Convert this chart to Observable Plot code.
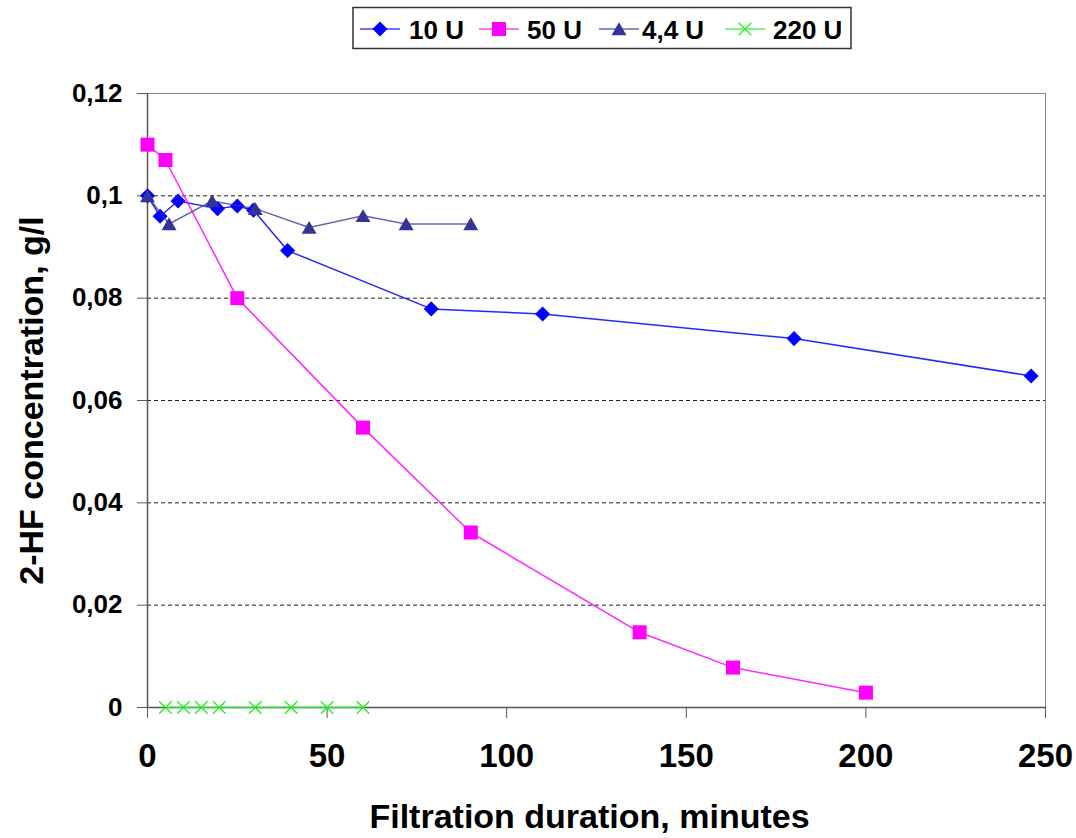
<!DOCTYPE html>
<html><head><meta charset="utf-8">
<script src="https://cdn.jsdelivr.net/npm/d3@7"></script>
<script src="https://cdn.jsdelivr.net/npm/@observablehq/plot@0.6"></script>
<style>
body{margin:0;background:#fff;font-family:"Liberation Sans",Arial,sans-serif;}
#wrap{width:1076px;}
</style></head><body>
<div id="wrap"><div id="legend"></div><div id="chart"></div></div>
<script>
// ---- data ----
const seriesNames = ["10 U", "50 U", "4,4 U", "220 U"];
const x10 = [0, 3.5, 8.5, 19.5, 25, 29.5, 39, 79, 110, 180, 246];
const y10 = [0.1, 0.096, 0.099, 0.0975, 0.098, 0.0972, 0.0893, 0.0779, 0.0769, 0.0721, 0.0648];
const x50 = [0, 5, 25, 60, 90, 137, 163, 200];
const y50 = [0.110, 0.107, 0.080, 0.0547, 0.0342, 0.0147, 0.0078, 0.0029];
const x44 = [0, 6, 18, 30, 45, 60, 72, 90];
const y44 = [0.1, 0.0945, 0.099, 0.0975, 0.0938, 0.0961, 0.0945, 0.0945];
const x220 = [5, 10, 15, 20, 30, 40, 50, 60];
const y220 = [0, 0, 0, 0, 0, 0, 0, 0];
const ticksX = [0, 50, 100, 150, 200, 250];
const ticksY = [0, 0.02, 0.04, 0.06, 0.08, 0.1, 0.12];
const gridY = [0.02, 0.04, 0.06, 0.08, 0.1];
const xTitle = "Filtration duration, minutes";
const yTitle = "2-HF concentration, g/l";

// ---- styles ----
const colors = ["#0000ff", "#ff00ff", "#333399", "#22ee22"];
const symbols = ["diamond2", "square2", "triangle2", "times"];
const d3symbols = [d3.symbolDiamond2, d3.symbolSquare2, d3.symbolTriangle2, d3.symbolTimes];
const sizes = [145, 250, 160, 105];

const rows = (xs, ys) => xs.map((x, i) => ({x, y: ys[i]}));
const data = [rows(x10, y10), rows(x50, y50), rows(x44, y44), rows(x220, y220)];
const fmt = d => d === 0 ? "0" : String(d).replace(".", ",");

const font = "Liberation Sans, Arial, sans-serif";

// ---- legend ----
const lg = d3.create("svg").attr("width", 1076).attr("height", 55)
  .style("display", "block").style("font-family", font);
lg.append("rect").attr("x", 353).attr("y", 7.5).attr("width", 498).attr("height", 41)
  .attr("fill", "white").attr("stroke", "#333").attr("stroke-width", 1.5);
const swX = [360, 479, 599, 725];
const txX = [409, 527, 642, 773];
seriesNames.forEach((name, i) => {
  lg.append("line").attr("x1", swX[i]).attr("x2", swX[i] + 40).attr("y1", 29).attr("y2", 29)
    .attr("stroke", colors[i]).attr("stroke-width", 1.5).attr("opacity", 0.75);
  const p = lg.append("path").attr("d", d3.symbol(d3symbols[i], sizes[i])())
    .attr("transform", `translate(${swX[i] + 20},${i === 2 ? 31 : 29})`);
  if (i === 3) p.attr("fill", "none").attr("stroke", colors[i]).attr("stroke-width", 1.2);
  else p.attr("fill", colors[i]).attr("stroke", "none");
  lg.append("text").attr("x", txX[i]).attr("y", 38.5).attr("font-size", 26)
    .attr("font-weight", "bold").text(name);
});
document.getElementById("legend").append(lg.node());

// ---- chart ----
const seriesMarks = data.flatMap((d, i) => [
  Plot.line(d, {x: "x", y: "y", stroke: colors[i], strokeWidth: 1.5, strokeOpacity: i === 2 ? 0.75 : 0.85}),
  Plot.dot(d, {x: "x", y: "y", symbol: symbols[i], r: Math.sqrt(sizes[i] / Math.PI),
    fill: i === 3 ? "none" : colors[i], stroke: i === 3 ? colors[i] : "none",
    strokeWidth: i === 3 ? 1.3 : 0, dy: i === 2 ? 2 : 0})
]);

const chart = Plot.plot({
  width: 1076, height: 783,
  marginTop: 38, marginBottom: 131, marginLeft: 147, marginRight: 31,
  x: {domain: [0, 250]},
  y: {domain: [0, 0.12]},
  style: {fontFamily: font, background: "white", color: "black"},
  marks: [
    Plot.ruleY(gridY, {stroke: "#222", strokeDasharray: "4,3", strokeWidth: 1}),
    Plot.frame({stroke: "#888"}),
    Plot.ruleX([0], {stroke: "#555", strokeWidth: 1.5}),
    Plot.ruleY([0], {stroke: "#555", strokeWidth: 1.5}),
    Plot.axisY(ticksY, {tickSize: 10, tickPadding: 15, fontSize: 26, fontWeight: "bold",
      tickFormat: fmt, label: null, stroke: "#555"}),
    Plot.axisX(ticksX, {tickSize: 11, tickPadding: 25, fontSize: 33, fontWeight: "bold",
      label: null, stroke: "#555"}),
    ...seriesMarks,
    Plot.text([xTitle], {frameAnchor: "bottom", dy: 110, dx: -7, fontSize: 34,
      fontWeight: "bold", lineAnchor: "middle", textAnchor: "middle", fill: "black"}),
    Plot.text([yTitle], {frameAnchor: "left", dx: -115, dy: 0, rotate: -90, fontSize: 34,
      fontWeight: "bold", lineAnchor: "middle", textAnchor: "middle", fill: "black"})
  ]
});
document.getElementById("chart").append(chart);
</script></body></html>
